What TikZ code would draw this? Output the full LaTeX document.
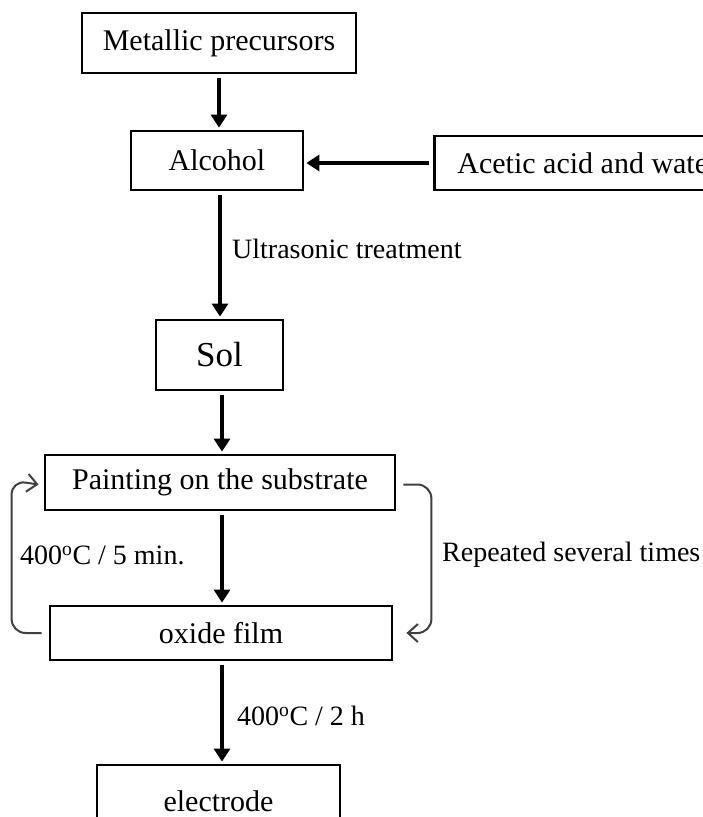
\documentclass[tikz,border=0pt]{standalone}
\usepackage{fontspec}
\setmainfont{Liberation Serif}
\usetikzlibrary{arrows.meta,calc}
\begin{document}
\begin{tikzpicture}[x=1pt,y=-1pt,
  box/.style={draw=black,line width=2.8pt,fill=white,inner sep=0pt,font=\fontsize{30}{36}\selectfont},
  lbl/.style={font=\fontsize{28}{34}\selectfont,inner sep=0pt},
  flow/.style={line width=4pt,-{Triangle[length=13pt,width=16pt]},shorten <=4pt,shorten >=2pt},
  loopst/.style={draw=black!75,line width=2pt,-{Straight Barb[length=10pt,width=18pt,line width=2pt]},rounded corners=14pt}]
\clip (0,0) rectangle (703,817);
\fill[white] (0,0) rectangle (703,817);
\node[box,minimum width=274pt,minimum height=60pt] (mp) at (219,43) {Metallic precursors};
\node[box,minimum width=172pt,minimum height=59pt] (al) at (217,160.5) {Alcohol};
\node[box,anchor=west,minimum height=54pt,inner xsep=23pt] (aa) at (433,163) {Acetic acid and water};
\node[box,minimum width=127pt,minimum height=70pt,font=\fontsize{35}{40}\selectfont] (sol) at (219.5,355) {Sol};
\node[box,minimum width=350pt,minimum height=55pt] (pt) at (220,482.5) {Painting on the substrate};
\node[box,minimum width=342pt,minimum height=54pt] (ox) at (221,633) {oxide film};
\node[box,minimum width=243pt,minimum height=72pt] (el) at (218.5,801) {electrode};

\draw[flow] (mp.south) -- (mp.south |- al.north);
\draw[flow] (aa.west) -- (al.east |- aa.west);
\coordinate (c1) at (220,190);
\draw[flow] (c1 |- al.south) -- (c1 |- sol.north);
\coordinate (c2) at (222,390);
\draw[flow] (c2 |- sol.south) -- (c2 |- pt.north);
\draw[flow] (c2 |- pt.south) -- (c2 |- ox.north);
\draw[flow] (c2 |- ox.south) -- (c2 |- el.north);

\node[lbl,anchor=west] (l1) at (232,249) {Ultrasonic treatment};
\node[lbl,anchor=west] (l2) at (20,555) {400\textsuperscript{o}C / 5 min.};
\node[lbl,anchor=west] (l3) at (237,716) {400\textsuperscript{o}C / 2 h};
\node[lbl,anchor=west] (l4) at (442,555) {Repeated several times};

\coordinate (lt) at ($(pt.west)+(-32,-2)$);
\draw[loopst] ([xshift=-7pt]ox.west) -| (lt) -- ([xshift=-5pt,yshift=-2pt]pt.west);
\coordinate (rt) at ($(pt.east)+(35,-2)$);
\draw[loopst] ([xshift=7pt,yshift=-2pt]pt.east) -| ($(rt |- ox.east)$) -- ([xshift=13pt]ox.east);
\end{tikzpicture}
\end{document}
